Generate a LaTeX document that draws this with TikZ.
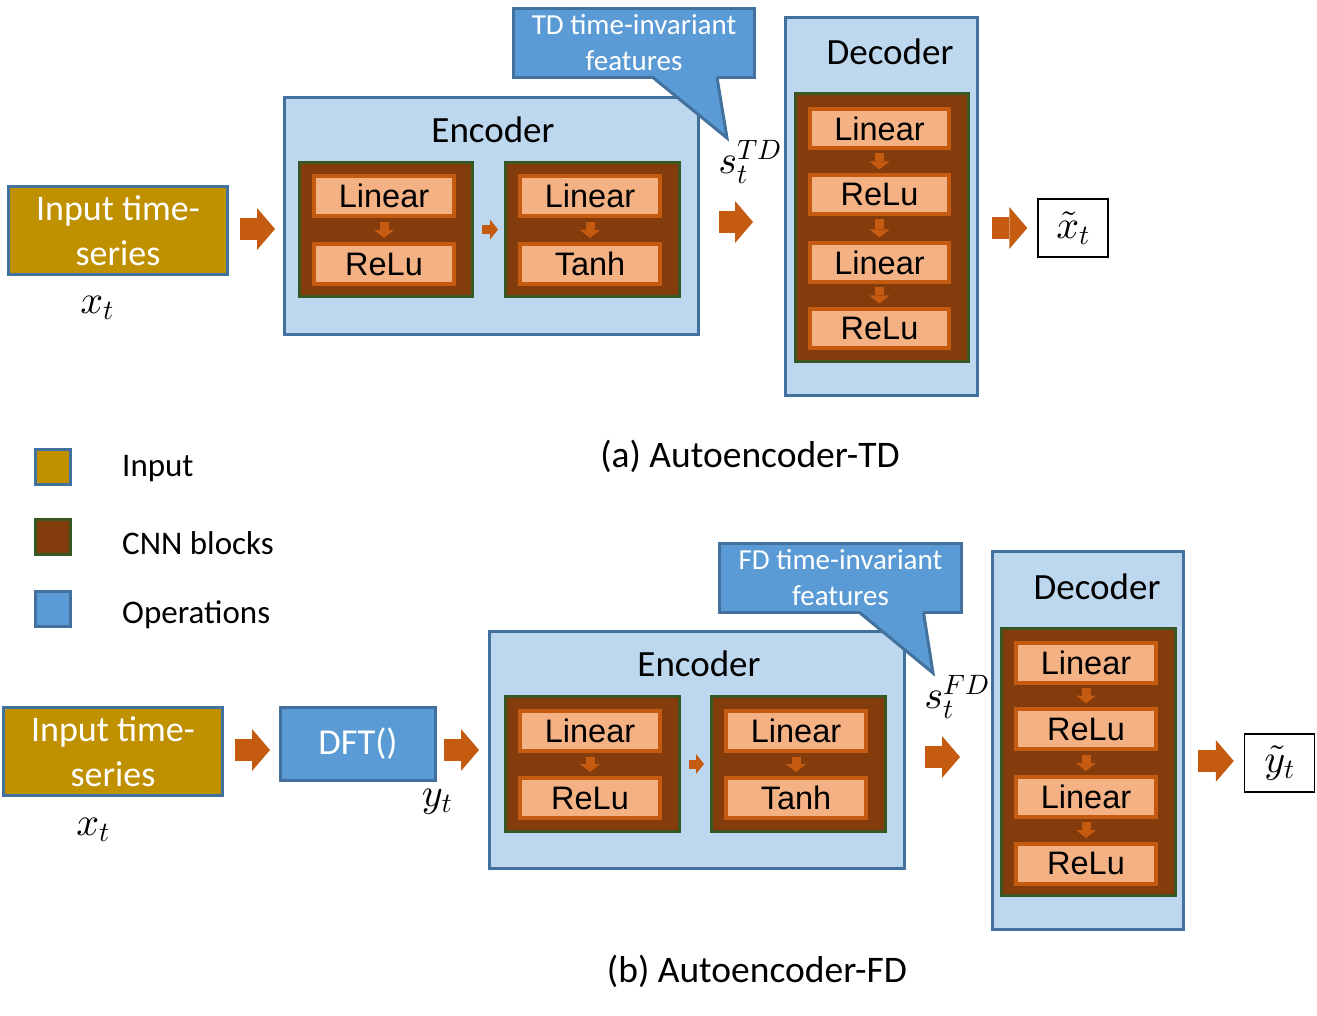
\documentclass[tikz,border=0pt]{standalone}
\usepackage[no-math]{fontspec}
\setmainfont{Carlito}
\newfontfamily\opfont{Liberation Sans}
\DeclareFontShape{OML}{cmm}{m}{it}{<->cmmi10}{}
\DeclareFontShape{OT1}{cmr}{m}{n}{<->cmr10}{}
\DeclareFontShape{OMS}{cmsy}{m}{n}{<->cmsy10}{}
\DeclareFontShape{OMX}{cmex}{m}{n}{<->cmex10}{}
\usetikzlibrary{arrows.meta,calc}
\definecolor{goldin}{HTML}{BF9000}
\definecolor{edgeblue}{HTML}{41719C}
\definecolor{paleblue}{HTML}{BDD7EE}
\definecolor{opblue}{HTML}{5B9BD5}
\definecolor{cnnbrown}{HTML}{843C0C}
\definecolor{cnngreen}{HTML}{385723}
\definecolor{peach}{HTML}{F4B183}
\definecolor{rust}{HTML}{C55A11}

\begin{document}
\begin{tikzpicture}[x=1pt,y=-1pt,
inputbox/.style={draw=edgeblue,fill=goldin,line width=3pt,minimum width=219pt,minimum height=88pt,inner sep=0pt,text=white,align=center,font=\fontsize{36}{45}\selectfont},
stage/.style={draw=edgeblue,fill=paleblue,line width=3pt,inner sep=0pt},
cnnblock/.style={draw=cnngreen,fill=cnnbrown,line width=3pt,inner sep=0pt},
opbox/.style={draw=rust,fill=peach,line width=4pt,minimum width=140pt,minimum height=40pt,inner sep=0pt,font=\opfont\fontsize{32.5}{32.5}\selectfont},
bubble/.style={draw=edgeblue,fill=opblue,line width=3pt,minimum width=241pt,minimum height=69pt,inner sep=0pt,text=white,align=center,font=\fontsize{29}{36}\selectfont},
dftbox/.style={draw=edgeblue,fill=opblue,line width=3pt,minimum width=155pt,minimum height=73pt,inner sep=0pt,text=white,font=\fontsize{36.5}{36.5}\selectfont},
outbox/.style={draw=black,fill=white,line width=1.5pt,minimum width=70pt,minimum height=58pt,inner sep=0pt,font=\fontsize{40}{40}\selectfont},
heading/.style={inner sep=0pt,font=\fontsize{37}{37}\selectfont},
mathlbl/.style={inner sep=0pt,font=\fontsize{40}{40}\selectfont},
caption/.style={inner sep=0pt,font=\fontsize{37.5}{37.5}\selectfont},
legendsq/.style={line width=3pt,minimum size=35pt,inner sep=0pt},
legendtxt/.style={anchor=west,inner sep=0pt,font=\fontsize{33}{33}\selectfont},
fatarrow/.style={draw=rust,line width=22pt,-{Triangle[width=42pt,length=18pt,line width=0pt]}},
thinarrow/.style={draw=rust,line width=9pt,-{Triangle[width=20pt,length=8pt,line width=0pt]}}]
\useasboundingbox (0,0) rectangle (1317,1016);
% ---------- (a) Autoencoder-TD ----------
\node[inputbox] (inA) at (118,230.5) {Input time-\\series};
\node[mathlbl] (xA) at (97,308) {$x_t$};
\node[stage,minimum width=414pt,minimum height=237pt] (encA) at (491.5,216) {};
\node[heading] (encAt) at (493,130) {Encoder};
\node[cnnblock,minimum width=173pt,minimum height=134pt] (blkA1) at (386,229.5) {};
\node[cnnblock,minimum width=174pt,minimum height=134pt] (blkA2) at (592.5,229.5) {};
\node[opbox] (linA1) at (384,196) {Linear};
\node[opbox] (reluA1) at (384,264) {ReLu};
\node[opbox] (linA2) at (590,196) {Linear};
\node[opbox] (tanhA2) at (590,264) {Tanh};
\draw[thinarrow,shorten <=4pt,shorten >=4pt] (linA1.south) -- (reluA1.north);
\draw[thinarrow,shorten <=4pt,shorten >=4pt] (linA2.south) -- (tanhA2.north);
\draw[thinarrow,shorten <=8pt,shorten >=6pt] (blkA1.east) -- (blkA2.west);
% callout
\node[bubble] (bubA) at (634,43) {TD time-invariant\\features};
\coordinate (tipA) at (727,138);
\fill[opblue] ($(bubA.south)+(19,-3)$) -- (tipA) -- ($(bubA.south)+(83,-3)$) -- cycle;
\draw[edgeblue,line width=3pt,line join=miter] ($(bubA.south)+(19,-1.5)$) -- (tipA) -- ($(bubA.south)+(83,-1.5)$);
\node[mathlbl] (sA) at (750,162) {$s_t^{TD}$};
% decoder
\node[stage,minimum width=192pt,minimum height=378pt] (decA) at (881.5,206.5) {};
\node[heading] (decAt) at (890,52) {Decoder};
\node[cnnblock,minimum width=173pt,minimum height=268pt] (blkA3) at (882,227.5) {};
\foreach \i/\t/\yy in {1/Linear/128.5,2/ReLu/194.5,3/Linear/262.5,4/ReLu/328.5}
  \node[opbox,minimum width=139pt,minimum height=39pt] (dA\i) at (879.5,\yy) {\t};
\foreach \a/\b in {1/2,2/3,3/4}
  \draw[thinarrow,shorten <=3.5pt,shorten >=3.5pt] (dA\a.south) -- (dA\b.north);
\node[outbox] (outA) at (1073,228) {$\tilde{x}_t$};
\draw[fatarrow,shorten <=11pt,shorten >=8pt] ($(inA.east)+(0,-1.5)$) -- ($(inA.east -| encA.west)+(0,-1.5)$);
\draw[fatarrow,shorten <=19pt,shorten >=31pt] ($(encA.east)+(0,6)$) -- ($(encA.east -| decA.west)+(0,6)$);
\draw[fatarrow,shorten <=13pt,shorten >=10pt] (outA.west -| decA.east) -- (outA.west);
\node[caption] (capA) at (750,456) {(a) Autoencoder-TD};
% ---------- legend ----------
\node[legendsq,draw=edgeblue,fill=goldin] (lg1) at (53,467) {};
\node[legendsq,draw=cnngreen,fill=cnnbrown] (lg2) at (53,537) {};
\node[legendsq,draw=edgeblue,fill=opblue] (lg3) at (53,609) {};
\node[legendtxt] (lt1) at (122,469) {Input};
\node[legendtxt] (lt2) at (122,543) {CNN blocks};
\node[legendtxt] (lt3) at (122,615) {Operations};
% ---------- (b) Autoencoder-FD ----------
\node[inputbox] (inB) at (113,751.5) {Input time-\\series};
\node[mathlbl] (xB) at (93,830) {$x_t$};
\node[dftbox] (dft) at (358,744) {DFT()};
\node[mathlbl] (yB) at (437,802) {$y_t$};
\node[stage,minimum width=415pt,minimum height=237pt] (encB) at (697,750) {};
\node[heading] (encBt) at (699,664) {Encoder};
\node[cnnblock,minimum width=174pt,minimum height=135pt] (blkB1) at (592.5,764) {};
\node[cnnblock,minimum width=174pt,minimum height=135pt] (blkB2) at (798.5,764) {};
\node[opbox] (linB1) at (590,730.5) {Linear};
\node[opbox] (reluB1) at (590,798) {ReLu};
\node[opbox] (linB2) at (796,730.5) {Linear};
\node[opbox] (tanhB2) at (796,798) {Tanh};
\draw[thinarrow,shorten <=4pt,shorten >=4pt] (linB1.south) -- (reluB1.north);
\draw[thinarrow,shorten <=4pt,shorten >=4pt] (linB2.south) -- (tanhB2.north);
\draw[thinarrow,shorten <=8pt,shorten >=6pt] (blkB1.east) -- (blkB2.west);
% callout
\node[bubble,minimum width=242pt] (bubB) at (840.5,578) {FD time-invariant\\features};
\coordinate (tipB) at (933,673);
\fill[opblue] ($(bubB.south)+(19,-3)$) -- (tipB) -- ($(bubB.south)+(83,-3)$) -- cycle;
\draw[edgeblue,line width=3pt,line join=miter] ($(bubB.south)+(19,-1.5)$) -- (tipB) -- ($(bubB.south)+(83,-1.5)$);
\node[mathlbl] (sB) at (957,697) {$s_t^{FD}$};
% decoder
\node[stage,minimum width=191pt,minimum height=378pt] (decB) at (1088,740.5) {};
\node[heading] (decBt) at (1097,587) {Decoder};
\node[cnnblock,minimum width=174pt,minimum height=267pt] (blkB3) at (1088.5,762) {};
\foreach \i/\t/\yy in {1/Linear/662.5,2/ReLu/729,3/Linear/796.5,4/ReLu/863.5}
  \node[opbox] (dB\i) at (1086,\yy) {\t};
\foreach \a/\b in {1/2,2/3,3/4}
  \draw[thinarrow,shorten <=3.5pt,shorten >=3.5pt] (dB\a.south) -- (dB\b.north);
\node[outbox] (outB) at (1279.5,763) {$\tilde{y}_t$};
\draw[fatarrow,shorten <=11pt,shorten >=9pt] ($(inB.east)+(0,-1.5)$) -- ($(inB.east -| dft.west)+(0,-1.5)$);
\draw[fatarrow,shorten <=7pt,shorten >=9pt] ($(dft.east)+(0,6)$) -- ($(dft.east -| encB.west)+(0,6)$);
\draw[fatarrow,shorten <=19pt,shorten >=31pt] ($(encB.east)+(0,7)$) -- ($(encB.east -| decB.west)+(0,7)$);
\draw[fatarrow,shorten <=13pt,shorten >=10pt] ($(outB.west -| decB.east)+(0,-2)$) -- ($(outB.west)+(0,-2)$);
\node[caption] (capB) at (757,971) {(b) Autoencoder-FD};
\end{tikzpicture}
\end{document}
